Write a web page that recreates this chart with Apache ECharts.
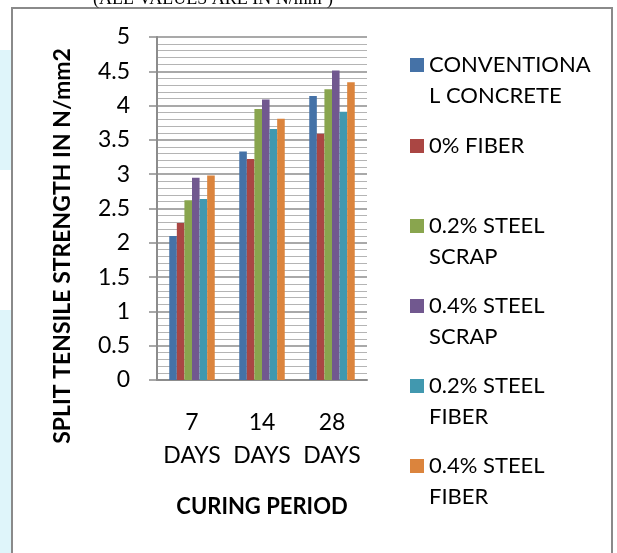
<!DOCTYPE html>
<html>
<head>
    <meta charset="utf-8">
    <title>Split tensile strength</title>
    <script src="https://cdn.jsdelivr.net/npm/echarts@6/dist/echarts.min.js"></script>
    <style>
        html, body { margin: 0; padding: 0; background: #fff; }
    </style>
</head>
<body>
    <div id="chart" style="width: 617px;height:553px;"></div>
    <script type="text/javascript">
        // categories and values (N/mm2)
        var categories = ['7\nDAYS', '14\nDAYS', '28\nDAYS'];
        var seriesNames = ['CONVENTIONAL CONCRETE', '0% FIBER', '0.2% STEEL SCRAP',
            '0.4% STEEL SCRAP', '0.2% STEEL FIBER', '0.4% STEEL FIBER'];
        var legendLabels = ['CONVENTIONA\nL CONCRETE', '0% FIBER', '0.2% STEEL\nSCRAP',
            '0.4% STEEL\nSCRAP', '0.2% STEEL\nFIBER', '0.4% STEEL\nFIBER'];
        var conventional = [2.1, 3.33, 4.14];
        var fiber0 = [2.29, 3.22, 3.59];
        var scrap02 = [2.62, 3.95, 4.24];
        var scrap04 = [2.95, 4.09, 4.51];
        var fiber02 = [2.64, 3.66, 3.91];
        var fiber04 = [2.98, 3.81, 4.34];
        var seriesData = [conventional, fiber0, scrap02, scrap04, fiber02, fiber04];
        var colors = ['#4572A7', '#AA4643', '#89A54E', '#71588F', '#4198AF', '#DB843D'];

        var font = 'Lato, "Open Sans", sans-serif';
        var myChart = echarts.init(document.getElementById('chart'));

        // one legend per entry, so the uneven spacing of the original can be kept
        var legendCentres = [65, 146, 226, 306, 386, 466];
        var lineH = 31;
        var sq = 14;
        // square sits beside the first of two text lines
        var twoLineIcon = 'path://M0,0L0.01,0M0,' + (lineH / 2 - sq / 2) + 'L' + sq + ',' + (lineH / 2 - sq / 2) +
            'L' + sq + ',' + (lineH / 2 + sq / 2) + 'L0,' + (lineH / 2 + sq / 2) + 'ZM0,' + (2 * lineH) + 'L0.01,' + (2 * lineH);
        var legends = seriesNames.map(function (name, i) {
            var twoLines = legendLabels[i].indexOf('\n') >= 0;
            return {
                data: [name],
                left: 410,
                top: legendCentres[i] - lineH / 2,
                padding: 0,
                itemWidth: sq,
                itemHeight: twoLines ? 2 * lineH : sq,
                icon: twoLines ? twoLineIcon : 'rect',
                symbolKeepAspect: false,
                selectedMode: false,
                formatter: function () { return legendLabels[i]; },
                textStyle: {
                    fontFamily: font,
                    fontSize: 22,
                    color: '#000',
                    lineHeight: lineH
                }
            };
        });

        var option = {
            backgroundColor: '#fff',
            animation: false,
            color: colors,
            legend: legends,
            grid: {
                left: 157,
                top: 37,
                width: 210,
                height: 343
            },
            xAxis: {
                type: 'category',
                data: categories,
                name: 'CURING PERIOD',
                nameLocation: 'middle',
                nameGap: 116,
                nameTextStyle: { fontFamily: font, fontSize: 22, fontWeight: 'bold', color: '#000' },
                axisLine: { lineStyle: { color: '#8c8c8c', width: 2 } },
                axisTick: { show: false },
                axisLabel: {
                    interval: 0,
                    hideOverlap: false,
                    margin: 26,
                    fontFamily: font,
                    fontSize: 23,
                    lineHeight: 33,
                    color: '#000'
                }
            },
            yAxis: {
                type: 'value',
                min: 0,
                max: 5,
                interval: 0.5,
                axisLine: { show: true, lineStyle: { color: '#8c8c8c', width: 2 } },
                axisTick: { show: true, length: 8, lineStyle: { color: '#8c8c8c', width: 1.5 } },
                axisLabel: { margin: 27, fontFamily: font, fontSize: 23, color: '#000' },
                splitLine: { lineStyle: { color: '#8c8c8c', width: 1.5 } },
                minorTick: { show: false, splitNumber: 5 },
                minorSplitLine: { show: true, lineStyle: { color: '#b4b4b4', width: 1 } }
            },
            series: seriesNames.map(function (name, i) {
                return {
                    name: name,
                    type: 'bar',
                    data: seriesData[i],
                    barGap: '0%',
                    barCategoryGap: '35%'
                };
            }),
            graphic: [
                { type: 'rect', shape: { x: 0, y: 50, width: 11, height: 120 }, style: { fill: '#dff5fa' }, silent: true },
                { type: 'rect', shape: { x: 0, y: 310, width: 11, height: 243 }, style: { fill: '#dff5fa' }, silent: true },
                {
                    type: 'rect',
                    shape: { x: 12, y: 8, width: 600, height: 560 },
                    style: { fill: 'none', stroke: '#8a8a8a', lineWidth: 2 },
                    silent: true
                },
                {
                    // y axis title, not centred on the axis in the original
                    type: 'text',
                    x: 63,
                    y: 246,
                    rotation: Math.PI / 2,
                    style: {
                        text: 'SPLIT TENSILE STRENGTH IN N/mm2',
                        font: 'bold 23px Lato, "Open Sans", sans-serif',
                        fill: '#000',
                        align: 'center',
                        verticalAlign: 'middle'
                    },
                    silent: true
                },
                {
                    type: 'text',
                    left: 93,
                    top: -10,
                    style: {
                        text: '(ALL VALUES ARE IN N/mm\u00b2)',
                        font: '18px "Liberation Serif", "DejaVu Serif", serif',
                        fill: '#000'
                    },
                    silent: true
                }
            ]
        };

        myChart.setOption(option);
    </script>
</body>
</html>
